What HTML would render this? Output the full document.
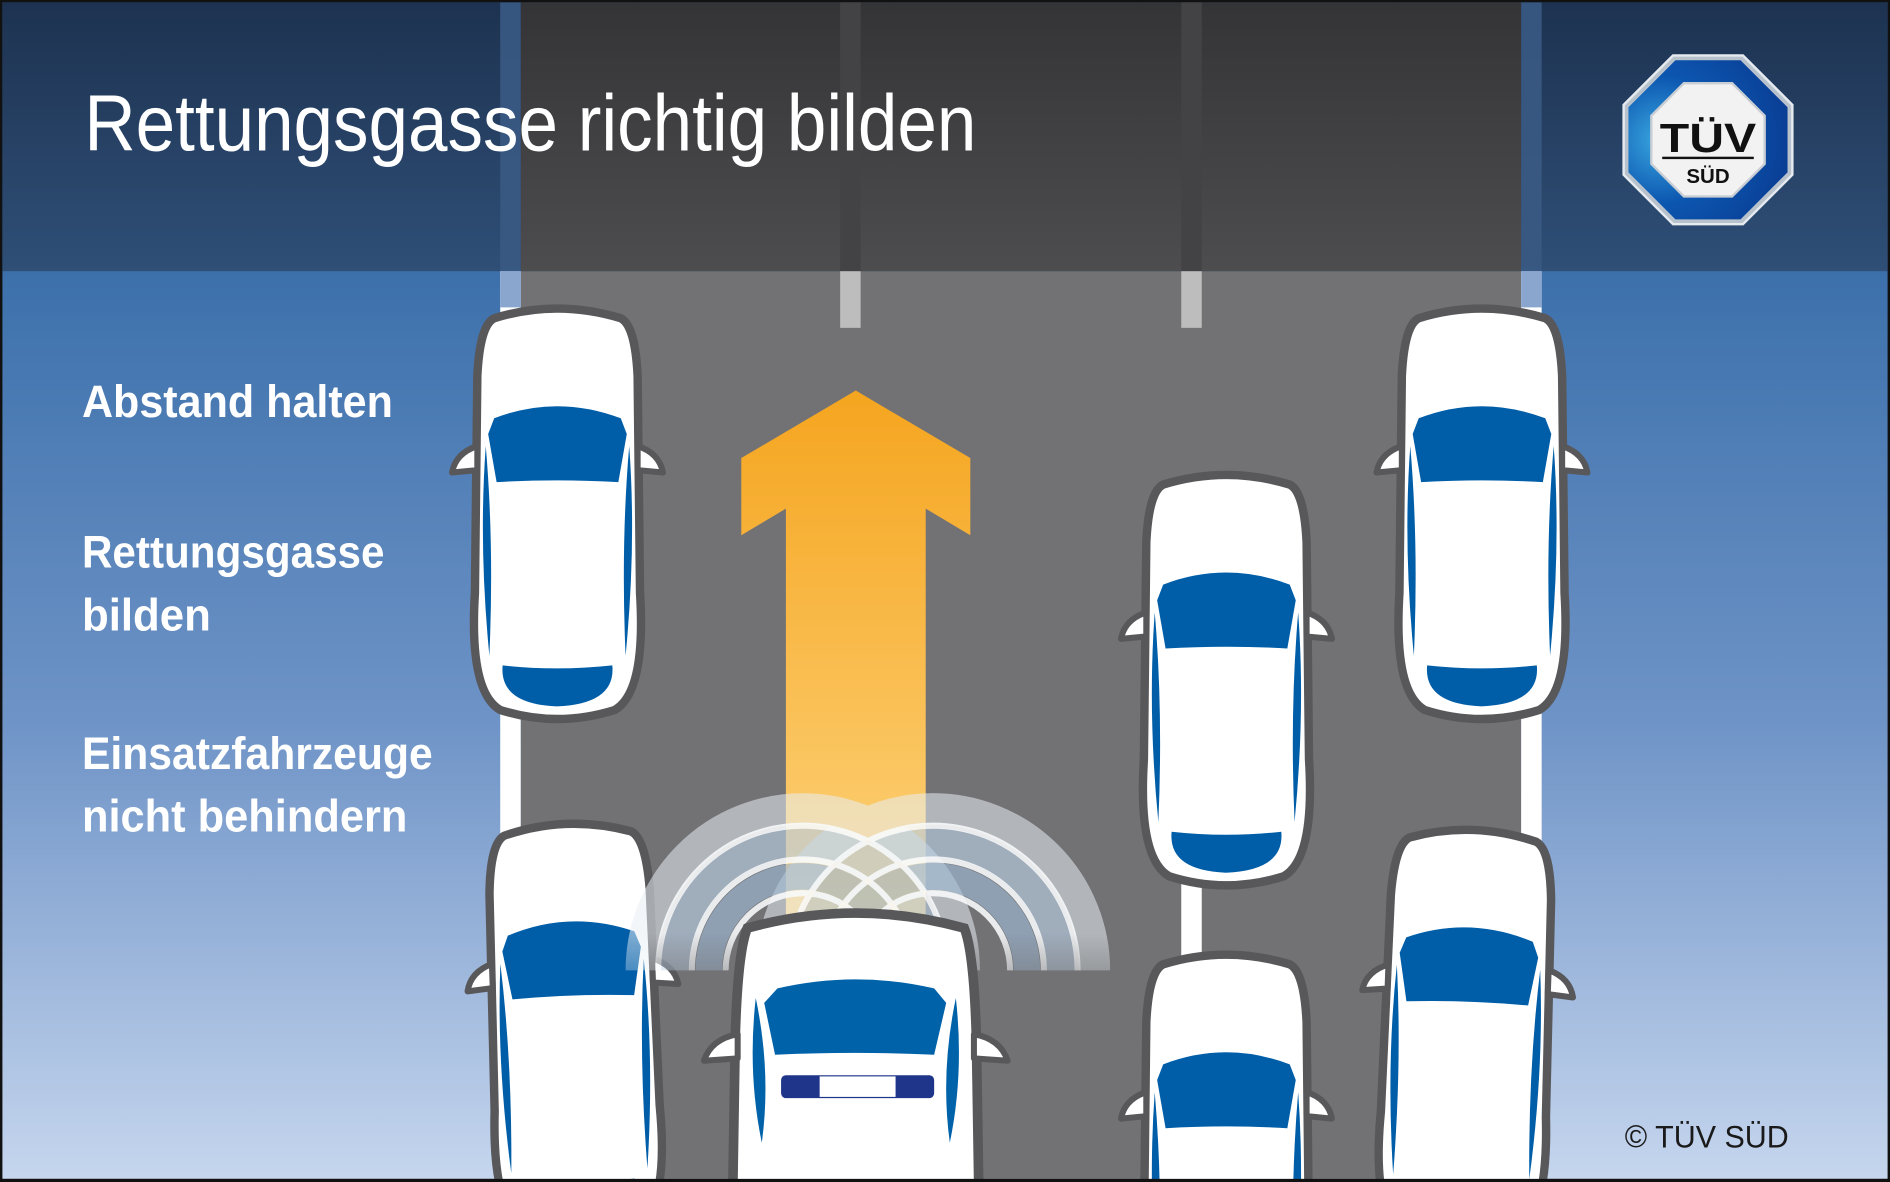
<!DOCTYPE html>
<html><head><meta charset="utf-8"><style>
html,body{margin:0;padding:0;background:#000;overflow:hidden;width:1890px;height:1182px;}
svg{display:block;overflow:hidden;}
</style></head><body>
<svg width="1890" height="1182" viewBox="0 0 1568 980.6" preserveAspectRatio="none" xmlns="http://www.w3.org/2000/svg">
<defs>
<clipPath id="frame"><rect x="0" y="0" width="1568" height="980.6"/></clipPath>
<linearGradient id="bg" x1="0" y1="225" x2="0" y2="980" gradientUnits="userSpaceOnUse">
<stop offset="0" stop-color="#3c70ab"/><stop offset="0.5" stop-color="#6f94c7"/><stop offset="1" stop-color="#c6d6ee"/></linearGradient>
<linearGradient id="hd" x1="0" y1="0" x2="0" y2="225" gradientUnits="userSpaceOnUse">
<stop offset="0" stop-color="#1d3250"/><stop offset="1" stop-color="#2f4f77"/></linearGradient>
<linearGradient id="hr" x1="0" y1="0" x2="0" y2="225" gradientUnits="userSpaceOnUse">
<stop offset="0" stop-color="#343436"/><stop offset="1" stop-color="#4d4c4f"/></linearGradient>
<linearGradient id="ar" x1="0" y1="324" x2="0" y2="760" gradientUnits="userSpaceOnUse">
<stop offset="0" stop-color="#f5a51f"/><stop offset="1" stop-color="#fdd27a"/></linearGradient>
<linearGradient id="fade" x1="0" y1="660" x2="0" y2="850" gradientUnits="userSpaceOnUse">
<stop offset="0" stop-color="#fff"/><stop offset="0.6" stop-color="#fff"/><stop offset="1" stop-color="#000"/></linearGradient>
<mask id="wm"><rect x="500" y="600" width="450" height="300" fill="url(#fade)"/></mask>
<radialGradient id="blue" cx="0.2" cy="0.5" r="0.8"><stop offset="0" stop-color="#3aa8e0"/><stop offset="0.5" stop-color="#0c56b0"/><stop offset="1" stop-color="#0a3f96"/></radialGradient>
<g id="car">
<path d="M20,12 Q72,-4 125,12 Q137,18 139,60 L141,240 Q146,322 120,337 Q72,352 25,337 Q-1,322 4,240 L6,60 Q8,18 20,12 Z" fill="#fff" stroke="#58585b" stroke-width="7"/>
<path d="M6,118 Q-12,124 -15,140 L6,138 Z" fill="#fff" stroke="#58585b" stroke-width="5" stroke-linejoin="round"/>
<path d="M139,118 Q157,124 160,140 L139,138 Z" fill="#fff" stroke="#58585b" stroke-width="5" stroke-linejoin="round"/>
<path d="M20,95 Q72,75 125,95 L130,108 L123,148 Q72,145 22,148 L15,108 Z" fill="#005ea8"/>
<path d="M13,118 Q20,200 16,292 Q7,200 13,118 Z" fill="#005ea8"/>
<path d="M132,118 Q125,200 129,292 Q138,200 132,118 Z" fill="#005ea8"/>
<path d="M27,300 Q72,305 118,300 Q121,332 72,334 Q24,332 27,300 Z" fill="#005ea8"/>
</g>
</defs>
<g clip-path="url(#frame)">
<rect x="0" y="0" width="1568" height="981" fill="#111"/>
<rect x="2" y="2" width="1564" height="976" fill="url(#bg)"/>
<rect x="2" y="2" width="1564" height="223" fill="url(#hd)"/>
<rect x="432" y="225" width="830" height="753" fill="#727274"/>
<rect x="432" y="2" width="830" height="223" fill="url(#hr)"/>
<rect x="415" y="225" width="17" height="753" fill="#fff"/>
<rect x="1262" y="225" width="17" height="753" fill="#fff"/>
<rect x="415" y="2" width="17" height="223" fill="#3a5a84" opacity="0.9"/>
<rect x="1262" y="2" width="17" height="223" fill="#3a5a84" opacity="0.9"/>
<rect x="415" y="225" width="17" height="30" fill="#8aa6cf"/>
<rect x="1262" y="225" width="17" height="30" fill="#8aa6cf"/>
<rect x="697" y="2" width="17" height="223" fill="#434345"/>
<rect x="980" y="2" width="17" height="223" fill="#434345"/>
<rect x="697" y="225" width="17" height="47" fill="#bdbdbd"/>
<rect x="980" y="225" width="17" height="47" fill="#bdbdbd"/>
<rect x="980" y="715" width="17" height="80" fill="#fff"/>
<path d="M710,324 L805,380 L805,444 L768,422 L768,760 L652,760 L652,422 L615,444 L615,380 Z" fill="url(#ar)"/>
<use href="#car" transform="translate(390,252)"/>
<use href="#car" transform="translate(1157,252)"/>
<use href="#car" transform="translate(945,390)"/>
<use href="#car" transform="translate(398,682) rotate(-2)"/>
<use href="#car" transform="translate(1150,682) rotate(2)"/>
<use href="#car" transform="translate(945,788)"/>
<g fill="none" mask="url(#wm)">
<g opacity="0.55">
<path d="M532,805 A134,134 0 0 1 800,805" stroke="#e8eef5" stroke-width="26"/>
<path d="M640,805 A134,134 0 0 1 908,805" stroke="#e8eef5" stroke-width="26"/>
</g>
<g opacity="0.65">
<path d="M560,805 A106,106 0 0 1 772,805" stroke="#b9cde2" stroke-width="24"/>
<path d="M668,805 A106,106 0 0 1 880,805" stroke="#b9cde2" stroke-width="24"/>
<path d="M588,805 A78,78 0 0 1 744,805" stroke="#9fb9d4" stroke-width="22"/>
<path d="M696,805 A78,78 0 0 1 852,805" stroke="#9fb9d4" stroke-width="22"/>
</g>
<g opacity="0.9" stroke="#f7f9fb" stroke-width="5">
<path d="M546,805 A120,120 0 0 1 786,805"/><path d="M654,805 A120,120 0 0 1 894,805"/>
<path d="M574,805 A92,92 0 0 1 758,805"/><path d="M682,805 A92,92 0 0 1 866,805"/>
<path d="M602,805 A64,64 0 0 1 730,805"/><path d="M710,805 A64,64 0 0 1 838,805"/>
</g>
</g>
<g>
<path d="M620,770 Q710,745 800,770 Q808,790 810,860 L812,985 L608,985 L610,860 Q612,790 620,770 Z" fill="#fff" stroke="#58585b" stroke-width="8"/>
<path d="M612,858 Q590,862 584,880 L612,878 Z" fill="#fff" stroke="#58585b" stroke-width="5" stroke-linejoin="round"/>
<path d="M808,858 Q830,862 836,880 L808,878 Z" fill="#fff" stroke="#58585b" stroke-width="5" stroke-linejoin="round"/>
<path d="M645,820 Q710,805 775,820 L785,832 L775,875 Q710,872 643,875 L634,832 Z" fill="#0062a9"/>
<path d="M627,828 Q640,890 632,948 Q620,890 627,828 Z" fill="#0062a9"/>
<path d="M793,828 Q780,890 788,948 Q800,890 793,828 Z" fill="#0062a9"/>
<rect x="648" y="892" width="127" height="19" rx="4" fill="#1e3589"/>
<rect x="680" y="893" width="63" height="17" fill="#fff"/>
</g>
<rect x="0" y="978" width="1568" height="3" fill="#111"/>
<g font-family="Liberation Sans, Arial, sans-serif" fill="#fff">
<text x="70" y="125" font-size="66" textLength="740" lengthAdjust="spacingAndGlyphs">Rettungsgasse richtig bilden</text>
<g font-weight="bold" font-size="38">
<text x="68" y="346" textLength="258" lengthAdjust="spacingAndGlyphs">Abstand halten</text>
<text x="68" y="471" textLength="251" lengthAdjust="spacingAndGlyphs">Rettungsgasse</text>
<text x="68" y="523" textLength="107" lengthAdjust="spacingAndGlyphs">bilden</text>
<text x="68" y="638" textLength="291" lengthAdjust="spacingAndGlyphs">Einsatzfahrzeuge</text>
<text x="68" y="690" textLength="270" lengthAdjust="spacingAndGlyphs">nicht behindern</text>
</g>
</g>
<text x="1348" y="952" font-family="Liberation Sans, Arial, sans-serif" font-size="26" fill="#1a1a1a" textLength="136" lengthAdjust="spacingAndGlyphs">© TÜV SÜD</text>
<g transform="translate(1417,116)">
<polygon points="-29,-70 29,-70 70,-29 70,29 29,70 -29,70 -70,29 -70,-29" fill="#b8c2cc" stroke="#e6ebf0" stroke-width="2"/>
<polygon points="-27,-66 27,-66 66,-27 66,27 27,66 -27,66 -66,27 -66,-27" fill="url(#blue)"/>
<polygon points="-20,-47 20,-47 47,-20 47,20 20,47 -20,47 -47,20 -47,-20" fill="#f2f2f2" stroke="#c9ced4" stroke-width="2"/>
<text x="0" y="10" text-anchor="middle" font-family="Liberation Sans, Arial, sans-serif" font-weight="bold" font-size="34" fill="#111" textLength="80" lengthAdjust="spacingAndGlyphs">TÜV</text>
<rect x="-38" y="14" width="76" height="2" fill="#111"/>
<text x="0" y="36" text-anchor="middle" font-family="Liberation Sans, Arial, sans-serif" font-weight="bold" font-size="17" fill="#111">SÜD</text>
</g>
</g>
</svg>
</body></html>
